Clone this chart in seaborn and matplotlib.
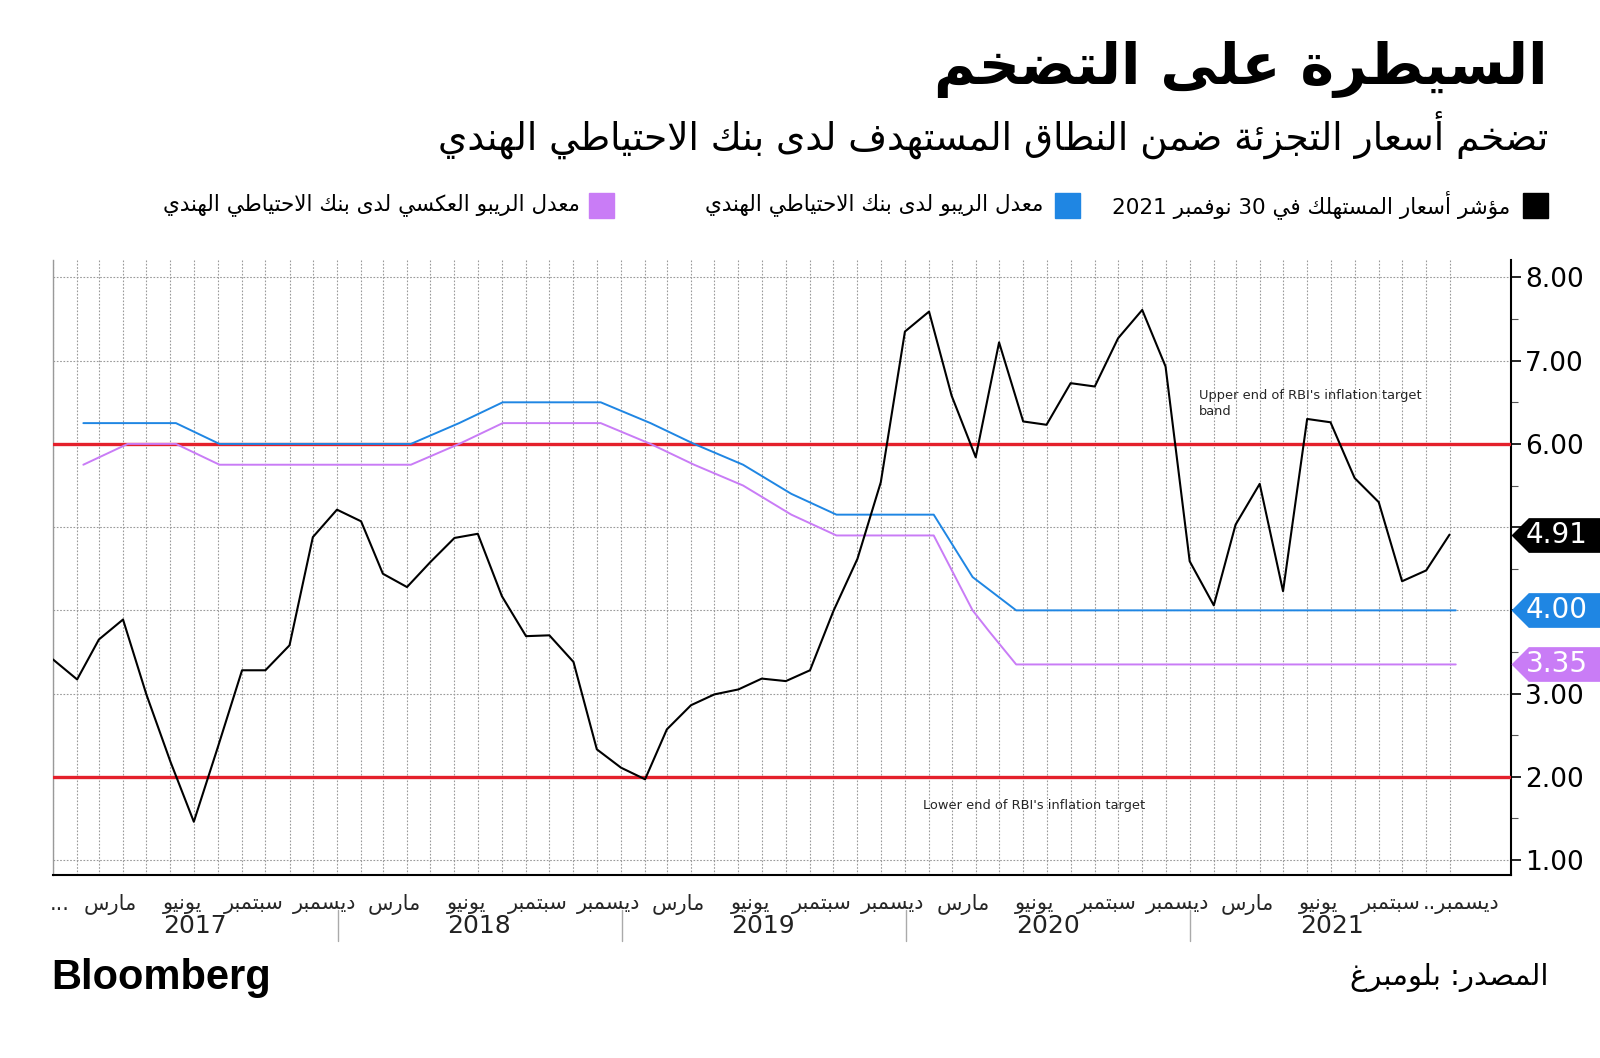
import re
import pandas as pd
import numpy as np
import matplotlib
matplotlib.use("Agg")
import matplotlib.pyplot as plt
from matplotlib.patches import Rectangle
import seaborn as sns

# CPI (YoY %), month-end readings Dec 2016 .. Nov 2021
cpi_months = pd.period_range("2016-12", "2021-11", freq="M").to_timestamp(how="end").normalize()
cpi_values = [3.41,
              3.17, 3.65, 3.89, 2.99, 2.18, 1.46, 2.36, 3.28, 3.28, 3.58, 4.88, 5.21,
              5.07, 4.44, 4.28, 4.58, 4.87, 4.92, 4.17, 3.69, 3.70, 3.38, 2.33, 2.11,
              1.97, 2.57, 2.86, 2.99, 3.05, 3.18, 3.15, 3.28, 3.99, 4.62, 5.54, 7.35,
              7.59, 6.58, 5.84, 7.22, 6.27, 6.23, 6.73, 6.69, 7.27, 7.61, 6.93, 4.59,
              4.06, 5.03, 5.52, 4.23, 6.30, 6.26, 5.59, 5.30, 4.35, 4.48, 4.91]

# RBI policy meetings
repo_dates = ["2017-02-08", "2017-04-06", "2017-06-07", "2017-08-02", "2017-10-04", "2017-12-06",
              "2018-02-07", "2018-04-05", "2018-06-06", "2018-08-01", "2018-10-05", "2018-12-05",
              "2019-02-07", "2019-04-04", "2019-06-06", "2019-08-07", "2019-10-04", "2019-12-05",
              "2020-02-06", "2020-03-27", "2020-05-22", "2020-08-06", "2020-10-09", "2020-12-04",
              "2021-02-05", "2021-04-07", "2021-06-04", "2021-08-06", "2021-10-08", "2021-12-08"]
repo_values = [6.25, 6.25, 6.25, 6.00, 6.00, 6.00,
               6.00, 6.00, 6.25, 6.50, 6.50, 6.50,
               6.25, 6.00, 5.75, 5.40, 5.15, 5.15,
               5.15, 4.40, 4.00, 4.00, 4.00, 4.00,
               4.00, 4.00, 4.00, 4.00, 4.00, 4.00]

rev_dates = ["2017-02-08", "2017-04-06", "2017-06-07", "2017-08-02", "2017-10-04", "2017-12-06",
             "2018-02-07", "2018-04-05", "2018-06-06", "2018-08-01", "2018-10-05", "2018-12-05",
             "2019-02-07", "2019-04-04", "2019-06-06", "2019-08-07", "2019-10-04", "2019-12-05",
             "2020-02-06", "2020-03-27", "2020-04-17", "2020-05-22", "2020-08-06", "2020-10-09",
             "2020-12-04", "2021-02-05", "2021-04-07", "2021-06-04", "2021-08-06", "2021-10-08",
             "2021-12-08"]
rev_values = [5.75, 6.00, 6.00, 5.75, 5.75, 5.75,
              5.75, 5.75, 6.00, 6.25, 6.25, 6.25,
              6.00, 5.75, 5.50, 5.15, 4.90, 4.90,
              4.90, 4.00, 3.75, 3.35, 3.35, 3.35,
              3.35, 3.35, 3.35, 3.35, 3.35, 3.35,
              3.35]

target_band = [2.0, 6.0]
years = [2017, 2018, 2019, 2020, 2021]
month_nums = [3, 6, 9, 12]
month_names = ["مارس", "يونيو", "سبتمبر", "ديسمبر"]

title = "السيطرة على التضخم"
subtitle = "تضخم أسعار التجزئة ضمن النطاق المستهدف لدى بنك الاحتياطي الهندي"
legend_labels = ["مؤشر أسعار المستهلك في 30 نوفمبر 2021",
                 "معدل الريبو لدى بنك الاحتياطي الهندي",
                 "معدل الريبو العكسي لدى بنك الاحتياطي الهندي"]
source = "المصدر: بلومبرغ"

BLACK = "#000000"
BLUE = "#1f86e3"
PURPLE = "#c97cf6"
RED = "#e4202b"


# --- minimal Arabic shaping (presentation forms) + right-to-left ordering ---
AR_LETTERS = "ءآأؤإئابةتثجحخدذرزسشصضطظعغفقكلمنهوىي"
AR_NFORMS = [1, 2, 2, 2, 2, 4, 2, 4, 2, 4, 4, 4, 4, 4, 2, 2, 2, 2, 4, 4,
             4, 4, 4, 4, 4, 4, 4, 4, 4, 4, 4, 4, 4, 2, 2, 4]
FORMS = {}
_code = 0xFE80
for _ch, _n in zip(AR_LETTERS, AR_NFORMS):
    FORMS[_ch] = [chr(_code + k) for k in range(_n)]
    _code += _n
LAM_ALEF = {"آ": 0xFEF5, "أ": 0xFEF7, "إ": 0xFEF9, "ا": 0xFEFB}


def shape(text):
    out = []
    prev_joins = False
    i = 0
    while i < len(text):
        c = text[i]
        nxt = text[i + 1] if i + 1 < len(text) else ""
        if c == "ل" and nxt in LAM_ALEF:
            out.append(chr(LAM_ALEF[nxt] + (1 if prev_joins else 0)))
            prev_joins = False
            i += 2
            continue
        if c in FORMS:
            forms = FORMS[c]
            jp = prev_joins and len(forms) >= 2
            jn = len(forms) == 4 and nxt in FORMS and len(FORMS[nxt]) >= 2
            if len(forms) == 1:
                g = forms[0]
            elif jp and jn:
                g = forms[3]
            elif jp:
                g = forms[1]
            elif jn:
                g = forms[2]
            else:
                g = forms[0]
            out.append(g)
            prev_joins = jn
        else:
            out.append(c)
            prev_joins = False
        i += 1
    return "".join(out)


def ar(text):
    vis = shape(text)[::-1]
    return re.sub(r"[0-9A-Za-z]+", lambda m: m.group(0)[::-1], vis)


sns.set_style("white")
plt.rcParams["font.family"] = ["DejaVu Sans"]

W, H = 1600, 1058
fig = plt.figure(figsize=(W / 100, H / 100), dpi=100)


def fx(x):
    return x / W


def fy(y):
    return 1 - y / H


ax = fig.add_axes([fx(53), fy(875), fx(1511 - 53), (875 - 260) / H])

df_cpi = pd.DataFrame({"date": cpi_months, "value": cpi_values})
df_repo = pd.DataFrame({"date": pd.to_datetime(repo_dates), "value": repo_values})
df_rev = pd.DataFrame({"date": pd.to_datetime(rev_dates), "value": rev_values})

for v in target_band:
    ax.axhline(v, color=RED, lw=2.4, zorder=3)

sns.lineplot(data=df_repo, x="date", y="value", color=BLUE, lw=1.4, ax=ax, zorder=4)
sns.lineplot(data=df_rev, x="date", y="value", color=PURPLE, lw=1.4, ax=ax, zorder=4)
sns.lineplot(data=df_cpi, x="date", y="value", color=BLACK, lw=1.5, ax=ax, zorder=5)

ax.set_xlim(pd.Timestamp("2016-12-31"), pd.Timestamp("2022-02-17"))
ax.set_ylim(0.82, 8.21)
ax.set_xlabel("")
ax.set_ylabel("")

# latest values, shown as tags on the right axis
last_vals = [(cpi_values[-1], BLACK), (repo_values[-1], BLUE), (rev_values[-1], PURPLE)]


def ytick_fmt(v, pos):
    # labels sitting under a value tag are hidden, as in the original
    if any(abs(v - lv) < 0.25 for lv, _ in last_vals[:2]):
        return ""
    return f"{v:.2f}"


# y axis on the right
ax.yaxis.tick_right()
ax.set_yticks(np.arange(1, 9))
ax.set_yticks(np.arange(1.5, 8.5, 1.0), minor=True)
ax.yaxis.set_major_formatter(matplotlib.ticker.FuncFormatter(ytick_fmt))
ax.tick_params(axis="y", which="major", direction="out", length=7, width=1.2,
               labelsize=19, pad=3, colors="black")
ax.tick_params(axis="y", which="minor", direction="out", length=5, width=0.8, colors="#555555")

# x axis: small ticks at every month, month names centred on the month
ax.set_xticks(cpi_months, minor=True)
tick_pos = [pd.Timestamp("2017-01-09")]
tick_lab = ["..."]
for y in years:
    for m, name in zip(month_nums, month_names):
        tick_pos.append(pd.Timestamp(y, m, 15))
        tick_lab.append(ar(name + ".." if (y == 2021 and m == 12) else name))
ax.set_xticks(tick_pos)
ax.set_xticklabels(tick_lab, fontsize=15)
ax.tick_params(axis="x", which="major", length=0, pad=14)
ax.tick_params(axis="x", which="minor", direction="inout", length=6, width=0.8, colors="#555555")

ax.grid(which="major", axis="y", ls=(0, (1.5, 1.5)), color="#9a9a9a", lw=0.8)
ax.grid(which="minor", axis="x", ls=(0, (1.5, 1.5)), color="#9a9a9a", lw=0.8)
ax.grid(which="major", axis="x", visible=False)

ax.spines["top"].set_visible(False)
ax.spines["right"].set_color("black")
ax.spines["right"].set_linewidth(1.5)
ax.spines["bottom"].set_color("black")
ax.spines["bottom"].set_linewidth(1.5)
ax.spines["left"].set_color("#999999")
ax.spines["left"].set_linewidth(1.0)

# year labels and separators
xt = ax.get_xaxis_transform()
for y in years:
    ax.text(pd.Timestamp(y, 7, 2), -0.083, str(y), transform=xt, ha="center", va="center",
            fontsize=18, color="#222222")
    if y > years[0]:
        ax.plot([pd.Timestamp(y, 1, 1)] * 2, [-0.057, -0.107], transform=xt,
                color="#aaaaaa", lw=1.0, clip_on=False)

# annotations for the target band
ax.text(pd.Timestamp("2021-01-12"), 6.48, "Upper end of RBI's inflation target\nband",
        fontsize=9.4, ha="left", va="center", linespacing=1.3)
ax.text(pd.Timestamp("2020-01-23"), 1.65, "Lower end of RBI's inflation target",
        fontsize=9.4, ha="left", va="center")

# tag shape: point on the axis, body running to the edge of the figure
yt = ax.get_yaxis_transform()
tag_shape = [(0, 0), (1, 1), (5.2, 1), (5.2, -1), (1, -1)]
for val, col in last_vals:
    ax.plot([1.0], [val], marker=tag_shape, ms=130, color=col, mec="none",
            transform=yt, clip_on=False, zorder=10)
    ax.annotate(f"{val:.2f}", xy=(1.0, val), xycoords=yt, xytext=(10.5, 0),
                textcoords="offset points", ha="left", va="center", fontsize=20,
                color="white", annotation_clip=False, zorder=11)

# titles
fig.text(fx(1548), fy(70), ar(title), ha="right", va="center", fontsize=41,
         fontweight="bold", color="black")
fig.text(fx(1548), fy(135), ar(subtitle), ha="right", va="center", fontsize=27,
         color="black")

# legend row
leg_items = [(1548, 1510, BLACK), (1080, 1043, BLUE), (614, 580, PURPLE)]
for (sq_right, txt_right, col), lab in zip(leg_items, legend_labels):
    fig.add_artist(Rectangle((fx(sq_right - 25), fy(218)), fx(25), 25 / H,
                             transform=fig.transFigure, color=col))
    fig.text(fx(txt_right), fy(205), ar(lab), ha="right", va="center", fontsize=15.5,
             color="black")

# footer
fig.text(fx(51), fy(978), "Bloomberg", ha="left", va="center", fontsize=30,
         fontweight="bold", family="Liberation Sans", color="black")
fig.text(fx(1548), fy(977), ar(source), ha="right", va="center", fontsize=21,
         color="black")

fig.savefig("out.png", dpi=100, facecolor="white")
